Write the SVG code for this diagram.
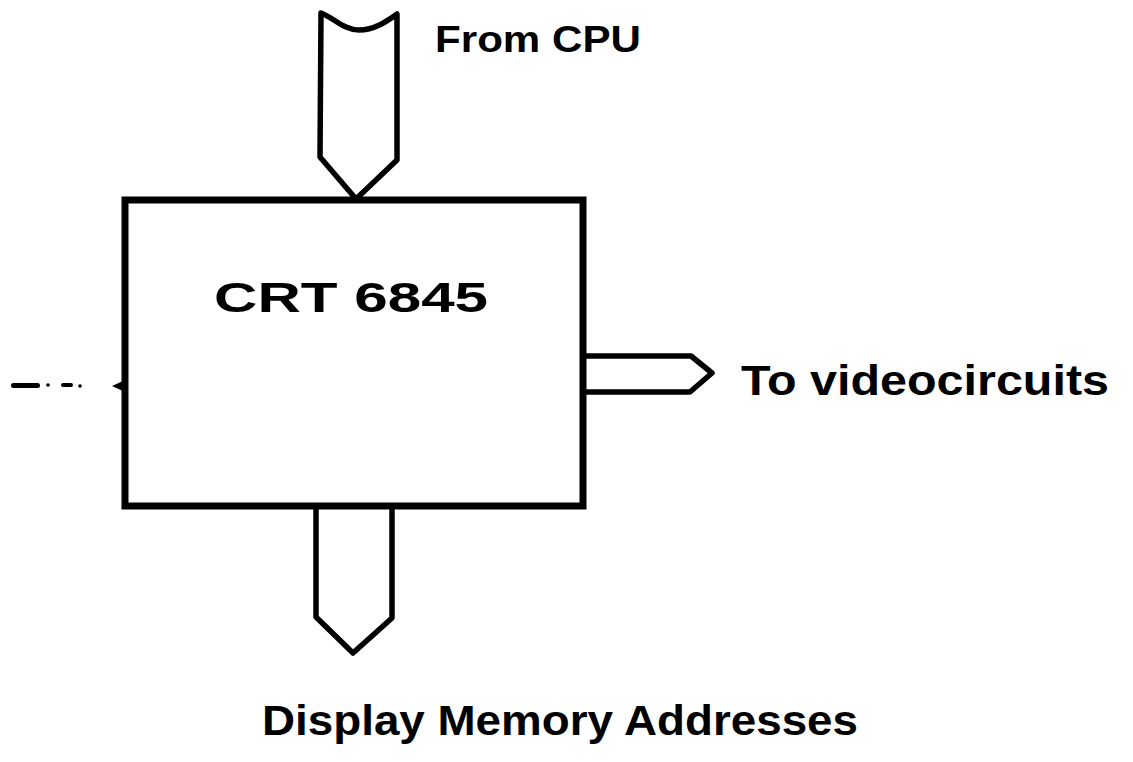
<svg xmlns="http://www.w3.org/2000/svg" width="1133" height="762" viewBox="0 0 1133 762">
<style>
.ln{fill:none;stroke:#000;stroke-width:5.5;stroke-linejoin:round;stroke-linecap:round}
.bx{fill:none;stroke:#000;stroke-width:7;stroke-linejoin:miter}
.t{font-family:"Liberation Sans",Arial,sans-serif;font-weight:bold;fill:#000}
</style>
<rect width="1133" height="762" fill="#fff"/>
<g id="connectors">
<path id="bus-cpu" class="ln" d="M321,13 C334,18 344,30 359,30 C374,30 386,22 397,14 L397,160 L356,199 L320,157 Z"/>
<path id="bus-video" class="ln" d="M585,356 L691,356 L712,373 L690,392 L585,392"/>
<path id="bus-memory" class="ln" d="M316,507 L316,617 L353,653 L392,618 L392,507"/>
<g id="dash-left" fill="#000">
<rect x="11" y="383" width="29" height="5" rx="2.5"/>
<circle cx="48" cy="385" r="1.8"/>
<rect x="61" y="383" width="12" height="4" rx="2"/>
<circle cx="80" cy="386" r="1.8"/>
<path d="M112,386 L123,381 L123,391 Z"/>
</g>
</g>
<g id="crt6845">
<rect class="bx" x="125" y="200" width="458" height="306"/>
<text class="t" x="214" y="312" font-size="42" textLength="274" lengthAdjust="spacingAndGlyphs">CRT 6845</text>
</g>
<g id="from-cpu">
<text class="t" x="435" y="52" font-size="36" textLength="206" lengthAdjust="spacingAndGlyphs">From CPU</text>
</g>
<g id="to-video">
<text class="t" x="741" y="395" font-size="42" textLength="368" lengthAdjust="spacingAndGlyphs">To videocircuits</text>
</g>
<g id="display-memory">
<text class="t" x="262" y="735" font-size="42" textLength="596" lengthAdjust="spacingAndGlyphs">Display Memory Addresses</text>
</g>
</svg>
